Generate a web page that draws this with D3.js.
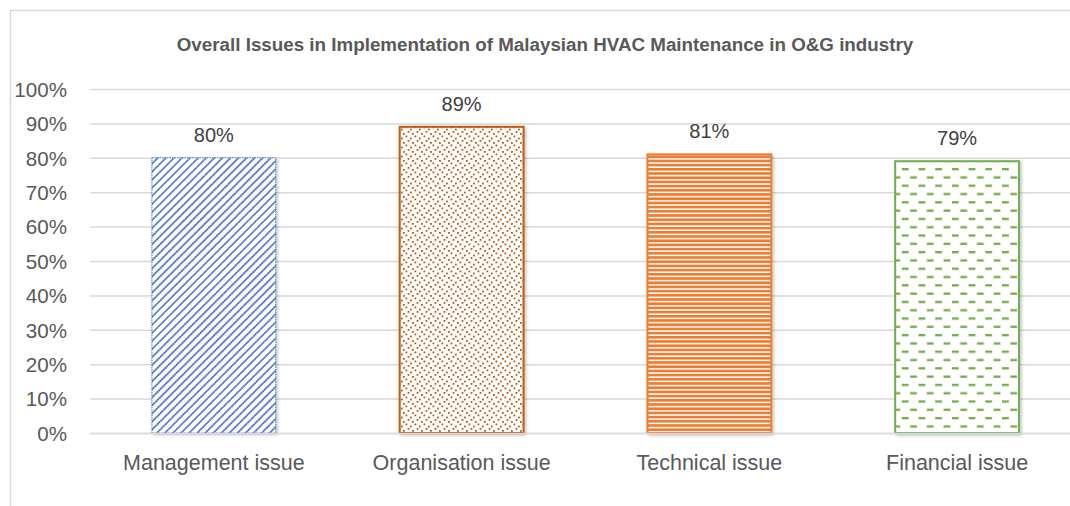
<!DOCTYPE html>
<html><head><meta charset="utf-8">
<script src="https://cdn.jsdelivr.net/npm/d3@7"></script>
<style>
html,body{margin:0;padding:0;background:#fff;}
svg{display:block;}
text{font-family:"Liberation Sans",Arial,sans-serif;}
</style></head>
<body>
<svg id="chart" width="1070" height="506"></svg>
<script>
const categories = ["Management issue","Organisation issue","Technical issue","Financial issue"];
const values = [0.80, 0.89, 0.81, 0.79];
const valueLabels = ["80%","89%","81%","79%"];
const yTicks = [0,0.1,0.2,0.3,0.4,0.5,0.6,0.7,0.8,0.9,1.0];
const title = "Overall Issues in Implementation of Malaysian HVAC Maintenance in O&G industry";
const patternIds = ["pMgmt","pOrg","pTech","pFin"];
const borderColors = ["#4472C4","#C55A11","#ED7D31","#70AD47"];

const svg = d3.select("#chart");

const defs = svg.append("defs");
const f = defs.append("filter").attr("id","shadow").attr("x","-10%").attr("y","-10%").attr("width","130%").attr("height","130%");
f.append("feDropShadow").attr("dx",1.5).attr("dy",1.5).attr("stdDeviation",1.5).attr("flood-color","#000").attr("flood-opacity",0.25);

// Management: diagonal dotted stripes
const p1 = defs.append("pattern").attr("id","pMgmt").attr("patternUnits","userSpaceOnUse")
  .attr("width",5.7).attr("height",10).attr("patternTransform","rotate(45)");
p1.append("rect").attr("width",5.7).attr("height",10).attr("fill","#fff");
p1.append("line").attr("x1",1).attr("x2",1).attr("y1",0).attr("y2",10)
  .attr("stroke","#8FAADC").attr("stroke-width",1.8);
p1.append("line").attr("x1",1).attr("x2",1).attr("y1",0).attr("y2",10)
  .attr("stroke","#3A66C0").attr("stroke-width",1.7).attr("stroke-dasharray","1.4 1.1");

// Organisation: scattered dots
const p2 = defs.append("pattern").attr("id","pOrg").attr("patternUnits","userSpaceOnUse")
  .attr("width",9).attr("height",9);
p2.append("rect").attr("width",9).attr("height",9).attr("fill","#fff");
[[0.5,0.5],[5,2.6],[2.6,5],[7,7]].forEach(([x,y])=>{
  p2.append("rect").attr("x",x).attr("y",y).attr("width",1.8).attr("height",1.8).attr("fill","#C55A11");
});

// Technical: horizontal lines
const p3 = defs.append("pattern").attr("id","pTech").attr("patternUnits","userSpaceOnUse")
  .attr("width",10).attr("height",4.2);
p3.append("rect").attr("width",10).attr("height",4.2).attr("fill","#fff");
p3.append("rect").attr("y",0).attr("width",10).attr("height",2.7).attr("fill","#ED7D31");

// Financial: dashed horizontal lines, staggered
const p4 = defs.append("pattern").attr("id","pFin").attr("patternUnits","userSpaceOnUse")
  .attr("width",16.7).attr("height",16.6);
p4.append("rect").attr("width",16.7).attr("height",16.6).attr("fill","#fff");
p4.append("rect").attr("x",0).attr("y",2).attr("width",6.8).attr("height",2.3).attr("fill","#70AD47");
p4.append("rect").attr("x",8.35).attr("y",10.3).attr("width",6.8).attr("height",2.3).attr("fill","#70AD47");

// chart border
svg.append("rect").attr("x",10.5).attr("y",10.5).attr("width",1100).attr("height",520)
  .attr("fill","none").attr("stroke","#D9D9D9").attr("stroke-width",1.5);

// title
svg.append("text").attr("x",545).attr("y",51).attr("text-anchor","middle")
  .attr("font-size",18.8).attr("font-weight","bold").attr("fill","#595959").text(title);

const x = d3.scaleBand().domain(categories).range([90,1081]).paddingInner(0.5).paddingOuter(0.25);
const y = d3.scaleLinear().domain([0,1]).range([433,89]);

// gridlines + y axis
const yAxis = d3.axisLeft(y).tickValues(yTicks).tickFormat(d3.format(".0%")).tickSize(-(1081-90)).tickPadding(23);
const ga = svg.append("g").attr("transform","translate(90,0)").call(yAxis);
ga.select(".domain").remove();
ga.selectAll(".tick line").attr("stroke","#D9D9D9").attr("stroke-width",1.5);
ga.selectAll(".tick text").attr("font-size",20.6).attr("fill","#595959").attr("font-family","Liberation Sans, Arial, sans-serif").attr("dy","0.35em");

// bars
svg.append("g").selectAll("rect").data(values).join("rect")
  .attr("x",(d,i)=>x(categories[i]))
  .attr("y",d=>y(d))
  .attr("width",x.bandwidth())
  .attr("height",d=>y(0)-y(d))
  .attr("fill",(d,i)=>`url(#${patternIds[i]})`)
  .attr("stroke",(d,i)=>borderColors[i])
  .attr("stroke-width",(d,i)=> i===0 ? 1 : 2)
  .attr("stroke-dasharray",(d,i)=> i===0 ? "1.5 1" : null)
  .attr("filter","url(#shadow)");

// value labels
svg.append("g").selectAll("text").data(values).join("text")
  .attr("x",(d,i)=>x(categories[i])+x.bandwidth()/2)
  .attr("y",d=>y(d)-16)
  .attr("text-anchor","middle").attr("font-size",20).attr("fill","#404040")
  .text((d,i)=>valueLabels[i]);

// x axis labels
const xAxis = d3.axisBottom(x).tickSize(0).tickPadding(22);
const gx = svg.append("g").attr("transform","translate(0,433)").call(xAxis);
gx.select(".domain").attr("stroke","#D9D9D9").attr("stroke-width",1.5);
gx.selectAll(".tick text").attr("font-size",21.5).attr("fill","#595959").attr("font-family","Liberation Sans, Arial, sans-serif").attr("dy","0.71em");
</script>
</body></html>
